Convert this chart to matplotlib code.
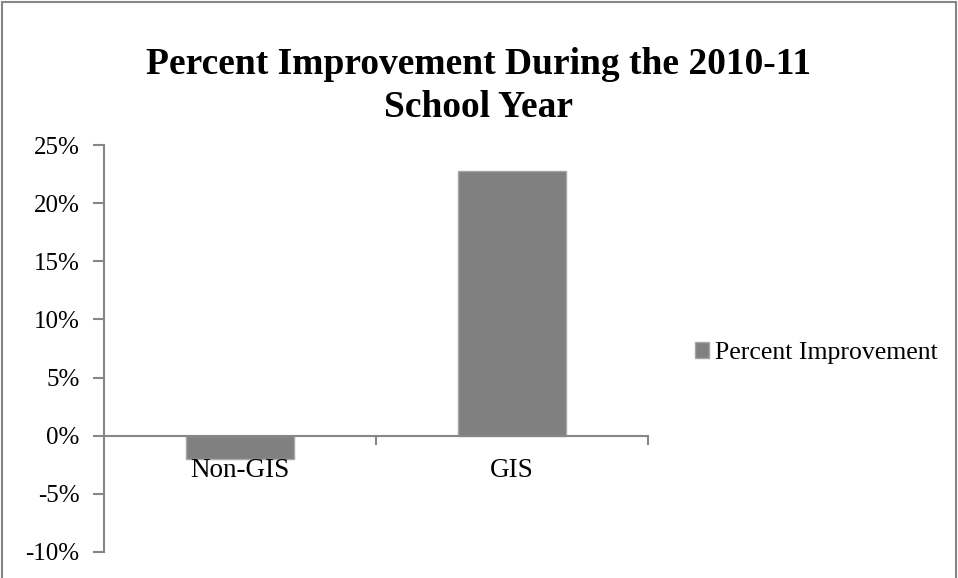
import matplotlib.pyplot as plt
from matplotlib.patches import Rectangle
from matplotlib.ticker import FuncFormatter

# percent improvement by group
groups = ['Non-GIS', 'GIS']
improvement = [-2.0, 22.8]
series_name = 'Percent Improvement'
yticks = [-10, -5, 0, 5, 10, 15, 20, 25]

plt.rcParams['font.family'] = ['Liberation Serif', 'DejaVu Serif']

W, H = 958, 578
fig = plt.figure(figsize=(W / 100, H / 100), dpi=100)

# plot area in pixels: x 104..648, y 145..552
ax = fig.add_axes([104 / W, 1 - 552 / H, (648 - 104) / W, (552 - 145) / H])

axis_gray = '#868686'
bars = ax.bar(range(len(groups)), improvement, width=0.4, color='#808080',
              edgecolor='#a6a6a6', linewidth=1, label=series_name, zorder=2)

ax.set_xlim(-0.5, len(groups) - 0.5)
ax.set_ylim(yticks[0], yticks[-1])
ax.set_yticks(yticks)
ax.yaxis.set_major_formatter(FuncFormatter(lambda v, p: '%d%%' % v))

for s in ['top', 'right', 'bottom']:
    ax.spines[s].set_visible(False)
ax.spines['left'].set_color(axis_gray)
ax.spines['left'].set_linewidth(1.5)

# horizontal category axis at zero with outward ticks between categories
ax.axhline(0, color=axis_gray, linewidth=1.5, zorder=3)
for b in [0.5, 1.5]:
    ax.plot([b, b], [0, -0.7], color=axis_gray, linewidth=1.5, clip_on=False, zorder=3)

ax.set_xticks([])
for i, g in enumerate(groups):
    ax.text(i, -1.95, g, ha='center', va='top', fontsize=19.5, zorder=4)

ax.tick_params(axis='y', length=8, width=1.5, color=axis_gray, labelsize=18, pad=9.5)

fig.suptitle('Percent Improvement During the 2010-11\nSchool Year', x=0.5, y=1 - 47 / H,
             va='top', fontsize=27, fontweight='bold', linespacing=1.3)

fig.legend(handles=[bars], labels=[series_name], loc='center left',
           bbox_to_anchor=(685 / W, 1 - 353 / H), frameon=False, fontsize=18.5,
           handlelength=0.55, handleheight=0.55, handletextpad=0.2, borderaxespad=0)

# chart border
fig.patches.append(Rectangle((2 / W, -0.05), 1 - 4 / W, 1.05 - 2 / H, transform=fig.transFigure,
                             fill=False, edgecolor=axis_gray, linewidth=1.5))

fig.savefig('out.png', dpi=100, facecolor='white')
